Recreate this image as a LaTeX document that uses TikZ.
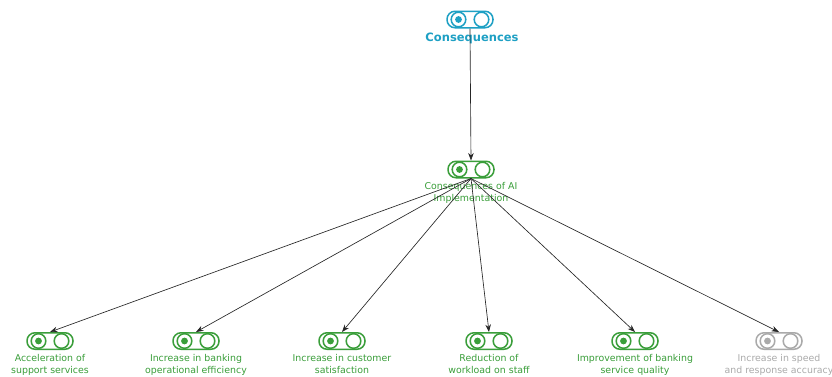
\documentclass[tikz,border=0pt]{standalone}
\usepackage{fontspec}
\setmainfont{DejaVu Sans}
\usetikzlibrary{arrows.meta,calc}
\definecolor{topcyan}{RGB}{30,160,196}
\definecolor{okgreen}{RGB}{58,158,58}
\definecolor{offgray}{RGB}{170,170,170}
\tikzset{
  toggle/.style={draw=#1, line width=1.5pt, rounded corners=8pt,
    minimum width=46pt, minimum height=16.5pt, inner sep=0pt},
  lbl/.style={text=#1, font=\fontsize{9.4}{12}\selectfont, align=center, anchor=north, inner sep=0pt},
  link/.style={draw=black!85, line width=0.65pt, -{Stealth[length=7.5pt,width=5.5pt]}}
}
% toggle icon: outlined stadium with a dotted left knob and an empty right knob
\newcommand{\toggleicon}[3]{%
  \node[toggle=#3] (#1) at (#2) {};
  \draw[#3, line width=1.5pt] ($(#1.center)+(-11.5pt,0)$) circle (7.3pt);
  \draw[#3, line width=1.5pt] ($(#1.center)+(11.5pt,0)$) circle (7.3pt);
  \fill[#3] ($(#1.center)+(-11.5pt,0)$) circle (3.4pt);
}
\begin{document}
\begin{tikzpicture}[x=1pt,y=-1pt]
\useasboundingbox (0,0) rectangle (832,376);
\fill[white] (0,0) rectangle (832,376);

% root
\toggleicon{root}{470,19.5}{topcyan}
\node[text=topcyan, font=\fontsize{11.5}{13}\selectfont\bfseries, anchor=center, inner sep=0pt] (rootlbl) at (472,38.5) {Consequences};

% main node
\toggleicon{main}{471,169.5}{okgreen}
\node[lbl=okgreen] (mainlbl) at (471,182.5) {Consequences of AI\\Implementation};

% outcomes
\toggleicon{o1}{50,341}{okgreen}
\toggleicon{o2}{196,341}{okgreen}
\toggleicon{o3}{342,341}{okgreen}
\toggleicon{o4}{489,341}{okgreen}
\toggleicon{o5}{635,341}{okgreen}
\toggleicon{o6}{779,341}{offgray}

\node[lbl=okgreen] (l1) at (50,354.5) {Acceleration of\\support services};
\node[lbl=okgreen] (l2) at (196,354.5) {Increase in banking\\operational efficiency};
\node[lbl=okgreen] (l3) at (342,354.5) {Increase in customer\\satisfaction};
\node[lbl=okgreen] (l4) at (489,354.5) {Reduction of\\workload on staff};
\node[lbl=okgreen] (l5) at (635,354.5) {Improvement of banking\\service quality};
\node[lbl=offgray] (l6) at (779,354.5) {Increase in speed\\and response accuracy};

% connectors
\draw[link] (root.south) -- (main.north);
\foreach \o in {o1,o2,o3,o4,o5,o6}
  \draw[link] (main.south) -- (\o.north);
\end{tikzpicture}
\end{document}
